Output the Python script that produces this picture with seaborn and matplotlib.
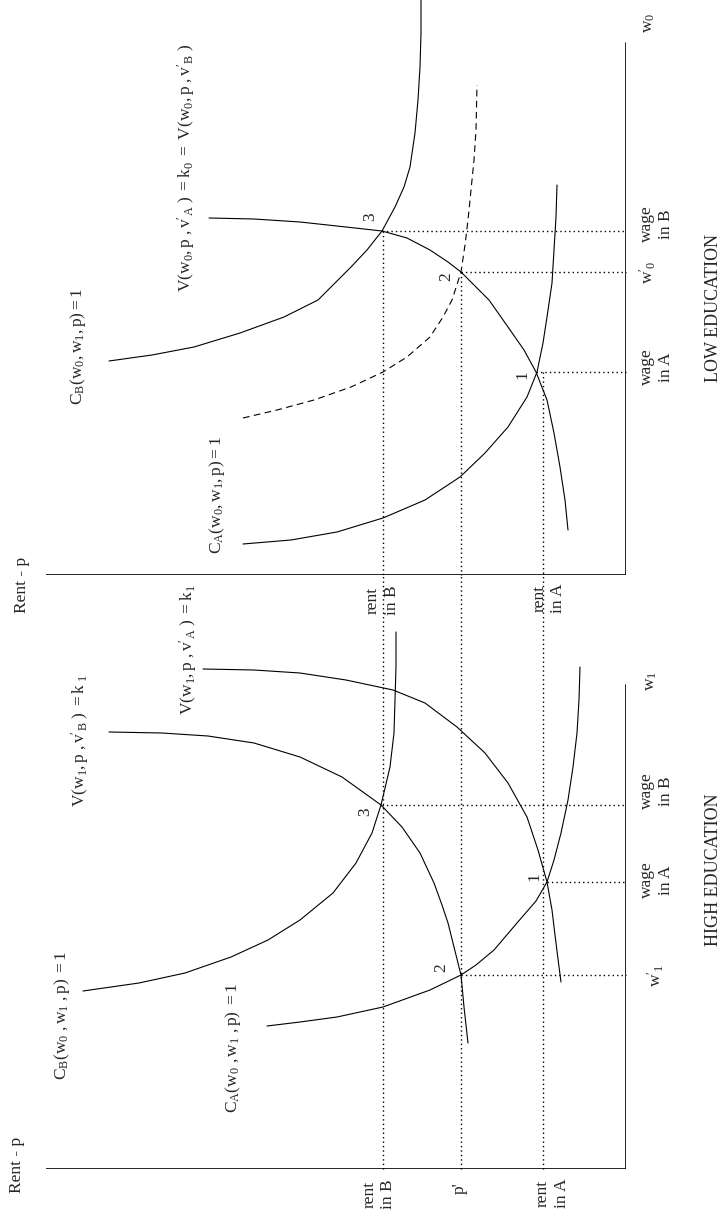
import matplotlib
matplotlib.use("Agg")
import matplotlib.pyplot as plt
import seaborn as sns

# ---- values (rent, wage), units are arbitrary ----
# shared rent levels (dotted lines run through both panels)
RENT_B = 24.3
P_PRIME = 16.5
RENT_A = 8.3

# LOW EDUCATION panel
low_v_rent = [41.7, 37.2, 32.6, 28.0, 24.4, 21.9, 19.6, 17.8, 16.5, 15.0, 13.7,
              11.8, 10.2, 9.0, 7.9, 7.2, 6.6, 6.1, 5.8]
low_v_wage = [35.7, 35.6, 35.3, 34.8, 34.4, 33.7, 32.5, 31.3, 30.3, 28.8, 27.5,
              24.8, 22.5, 20.3, 17.5, 14.2, 10.8, 7.5, 4.5]
low_cb_rent = [51.7, 47.4, 43.2, 38.6, 34.2, 30.8, 29.1, 27.5, 25.9, 24.4, 23.1,
               22.2, 21.6, 21.1, 20.8, 20.6, 20.5, 20.5]
low_cb_wage = [21.4, 22.0, 22.8, 24.2, 25.8, 27.5, 29.2, 30.8, 32.5, 34.4, 36.8,
               38.8, 40.8, 44.2, 47.5, 50.8, 54.2, 57.5]
low_dash_rent = [38.3, 34.9, 31.2, 27.5, 24.3, 21.9, 19.6, 18.3, 17.4, 16.5, 16.1,
                 15.8, 15.5, 15.2, 15.0, 14.9]
low_dash_wage = [15.7, 16.5, 17.5, 18.8, 20.3, 21.8, 23.8, 25.8, 27.5, 30.3, 33.0,
                 35.5, 38.5, 41.5, 44.5, 49.0]
low_ca_rent = [38.3, 33.5, 28.9, 24.3, 20.1, 16.6, 14.1, 11.8, 9.9, 8.9, 8.3, 7.9,
               7.4, 7.2, 7.0, 6.9]
low_ca_wage = [3.1, 3.5, 4.3, 5.7, 7.5, 9.8, 12.2, 14.8, 17.8, 20.3, 23.2, 25.8,
               29.2, 32.5, 35.8, 39.0]
low_points = [(24.4, 34.4), (16.5, 30.3), (9.0, 20.3)]

# HIGH EDUCATION panel
high_vb_rent = [51.7, 46.4, 41.8, 37.2, 32.6, 28.4, 24.5, 22.4, 20.6, 19.2, 18.4,
                17.8, 17.2, 16.5, 16.2, 15.8]
high_vb_wage = [43.7, 43.6, 43.3, 42.6, 41.2, 39.2, 36.4, 34.2, 31.6, 28.6, 26.4,
                24.6, 22.2, 19.4, 16.2, 12.6]
high_va_rent = [42.3, 37.2, 32.6, 28.0, 23.3, 20.1, 16.9, 14.1, 11.8, 9.9, 8.8,
                7.9, 7.4, 7.1, 6.8, 6.5]
high_va_wage = [50.0, 49.9, 49.6, 48.9, 47.9, 46.6, 44.2, 41.6, 38.6, 35.2, 31.9,
                28.7, 25.9, 23.4, 21.0, 18.7]
high_ca_rent = [4.6, 4.7, 4.9, 5.3, 5.8, 6.5, 7.2, 7.9, 9.0, 10.9, 13.2, 15.0,
                16.5, 19.6, 24.3, 28.9, 32.6, 35.9]
high_ca_wage = [50.2, 46.9, 43.6, 40.2, 36.9, 33.6, 30.9, 28.7, 26.8, 24.6, 21.9,
                20.4, 19.4, 17.9, 16.2, 15.2, 14.7, 14.3]
high_cb_rent = [23.0, 23.0, 23.1, 23.2, 23.6, 24.5, 25.4, 27.0, 29.3, 32.6, 35.8,
                39.5, 44.1, 48.7, 54.3]
high_cb_wage = [53.7, 50.2, 46.9, 43.6, 40.2, 36.4, 33.6, 30.6, 27.6, 24.9, 22.9,
                21.2, 19.6, 18.6, 17.8]
high_points = [(24.4, 36.4), (7.9, 28.7), (16.5, 19.4)]

RENT_MAX = 58.0

sns.set_theme(style="white")
plt.rcParams["font.family"] = ["Liberation Serif", "DejaVu Serif"]
plt.rcParams["mathtext.fontset"] = "custom"
plt.rcParams["mathtext.rm"] = "Liberation Serif"
plt.rcParams["mathtext.it"] = "Liberation Serif:italic"

FS = 12.5

fig = plt.figure(figsize=(7.23, 12.2), dpi=100)
ax_low = fig.add_axes([46 / 723, 1 - 575 / 1220, 580 / 723, 575 / 1220])
ax_high = fig.add_axes([46 / 723, 1 - 1169 / 1220, 580 / 723, 594 / 1220])
ax_low.set_ylim(0, 57.5)
ax_high.set_ylim(0, 59.4)
for ax in (ax_low, ax_high):
    ax.set_xlim(RENT_MAX, 0)
    ax.axis("off")


def curve(ax, r, w, **kw):
    kw.setdefault("linestyle", "-")
    sns.lineplot(x=r, y=w, sort=False, estimator=None, color="black",
                 linewidth=0.8, ax=ax, legend=False, **kw)


def dotted(ax, r, w):
    ax.plot(r, w, color="black", linewidth=1.0, linestyle=(0, (1, 2.2)), clip_on=False)


def label(ax, r, w, s, size=FS):
    ax.text(r, w, s, rotation=90, ha="center", va="center", fontsize=size,
            multialignment="center", linespacing=1.25)


def axes_lines(ax, wage_top):
    ax.plot([0, RENT_MAX], [0, 0], color="black", linewidth=1.2)
    ax.plot([0, 0], [0, wage_top], color="black", linewidth=1.2)


# ---------------- LOW EDUCATION ----------------
ax = ax_low
axes_lines(ax, 53.2)
curve(ax, low_v_rent, low_v_wage)
curve(ax, low_cb_rent, low_cb_wage)
curve(ax, low_ca_rent, low_ca_wage)
curve(ax, low_dash_rent, low_dash_wage, linestyle=(0, (6, 4)))
for r, w in low_points:
    dotted(ax, [r, 0], [w, w])
for r, (_, w) in zip((RENT_B, P_PRIME, RENT_A), low_points):
    dotted(ax, [r, r], [w, 0])

label(ax, 25.6, 35.8, "3")
label(ax, 18.0, 29.8, "2")
label(ax, 10.4, 20.0, "1")
label(ax, 60.4, -1.0, "Rent - p")
label(ax, -2.3, 55.2, r"$\mathrm{w_0}$")
label(ax, -3.0, 35.1, "wage\nin B")
label(ax, -2.2, 30.3, r"$\mathrm{w'_0}$")
label(ax, -3.0, 20.8, "wage\nin A")
label(ax, -8.8, 26.7, "LOW EDUCATION", size=13)
label(ax, 24.4, -2.5, "rent\nin B")
label(ax, 7.7, -2.3, "rent\nin A")
label(ax, 54.8, 22.9, r"$\mathrm{C_B(w_0,w_1,p)=1}$")
label(ax, 44.0, 40.7, r"$\mathrm{V(w_0,p\ ,v'_A\ )\ =k_0\ =\ V(w_0,p\ ,v'_B\ )}$")
label(ax, 40.9, 8.0, r"$\mathrm{C_A(w_0,w_1,p)=1}$")

# ---------------- HIGH EDUCATION ----------------
ax = ax_high
axes_lines(ax, 48.4)
curve(ax, high_vb_rent, high_vb_wage)
curve(ax, high_va_rent, high_va_wage)
curve(ax, high_ca_rent, high_ca_wage)
curve(ax, high_cb_rent, high_cb_wage)
for r, w in high_points:
    dotted(ax, [r, 0], [w, w])
for r in (RENT_B, P_PRIME, RENT_A):
    dotted(ax, [r, r], [0, 59.4])

label(ax, 26.1, 35.7, "3")
label(ax, 9.2, 29.2, "1")
label(ax, 18.5, 20.1, "2")
label(ax, 60.9, 0.4, "Rent - p")
label(ax, -2.5, 48.8, r"$\mathrm{w_1}$")
label(ax, -3.0, 37.8, "wage\nin B")
label(ax, -3.0, 28.9, "wage\nin A")
label(ax, -3.0, 19.4, r"$\mathrm{w'_1}$")
label(ax, -8.8, 29.9, "HIGH EDUCATION", size=13)
label(ax, 24.7, -2.5, "rent\nin B")
label(ax, 16.6, -1.9, "p'")
label(ax, 7.4, -2.4, "rent\nin A")
label(ax, 54.6, 42.8, r"$\mathrm{V(w_1,p\ ,v'_B\ )\ =k_{\ 1}}$")
label(ax, 43.8, 51.9, r"$\mathrm{V(w_1,p\ ,v'_A\ )\ =k_1}$")
label(ax, 56.4, 15.4, r"$\mathrm{C_B(w_0\ ,w_1\ ,p)\ =1}$")
label(ax, 39.3, 12.1, r"$\mathrm{C_A(w_0\ ,w_1\ ,p)\ =1}$")

fig.savefig("out.png", dpi=100)
plt.close(fig)
